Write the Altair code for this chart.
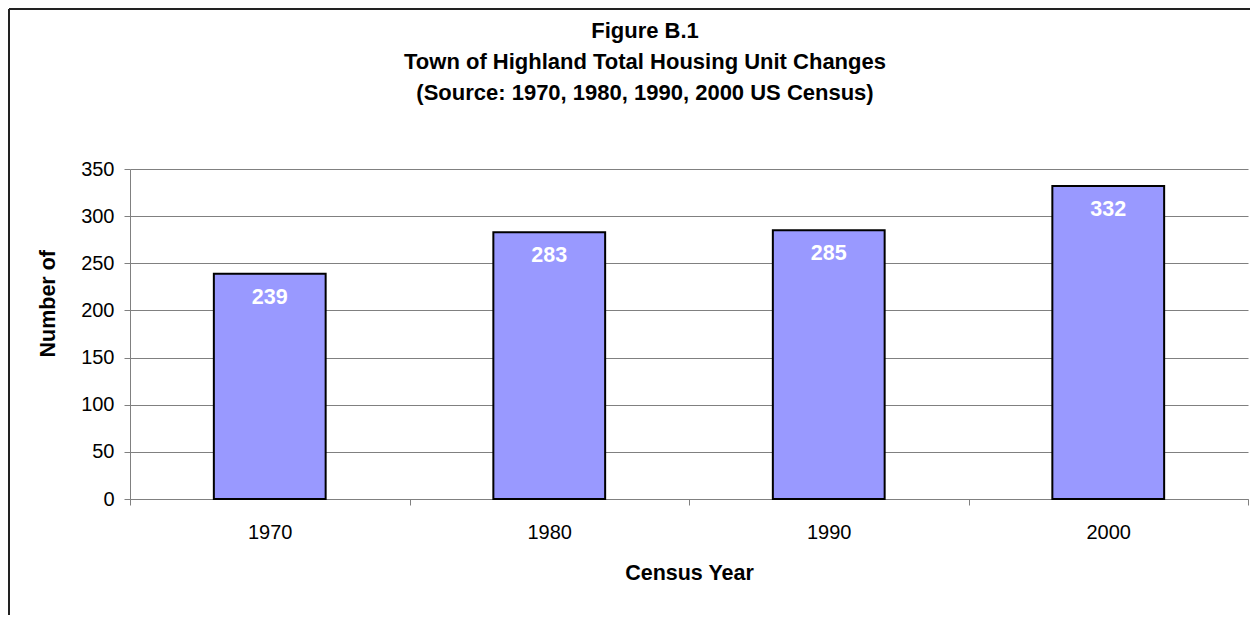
import altair as alt
import pandas as pd

years = ["1970", "1980", "1990", "2000"]
units = [239, 283, 285, 332]

title_lines = [
    "Figure B.1",
    "Town of Highland Total Housing Unit Changes",
    "(Source:  1970, 1980, 1990, 2000 US Census)",
]

FONT = "Liberation Sans"
W, H = 1118, 330

df = pd.DataFrame({"year": years, "units": units})

x_enc = alt.X(
    "year:N",
    sort=None,
    scale=alt.Scale(paddingInner=0, paddingOuter=0),
    axis=alt.Axis(
        title="Census Year",
        labelAngle=0,
        tickBand="extent",
        tickSize=6,
        labelPadding=17,
        labelFontSize=20,
        labelFont=FONT,
        labelColor="#000000",
        titleFont=FONT,
        titleFontSize=21.5,
        titleFontWeight="bold",
        titleColor="#000000",
        titlePadding=20,
        domainColor="#808080",
        tickColor="#808080",
        grid=False,
    ),
)

y_enc = alt.Y(
    "units:Q",
    scale=alt.Scale(domain=[0, 350], nice=False),
    axis=alt.Axis(
        title="Number of",
        values=[0, 50, 100, 150, 200, 250, 300, 350],
        tickSize=6,
        labelPadding=10,
        labelFontSize=20,
        labelFont=FONT,
        labelColor="#000000",
        titleFont=FONT,
        titleFontSize=21.5,
        titleFontWeight="bold",
        titleColor="#000000",
        titleAlign="left",
        titleBaseline="bottom",
        titleAngle=270,
        titleX=-71,
        titleY=188,
        domainColor="#808080",
        tickColor="#808080",
        grid=True,
        gridColor="#808080",
        gridWidth=1,
    ),
)

base = alt.Chart(df).encode(x=x_enc, y=y_enc)

bars = base.mark_bar(
    width=alt.RelativeBandSize(0.4),
    fill="#9999FF",
    stroke="#000000",
    strokeWidth=2,
)

labels = base.mark_text(
    color="#FFFFFF",
    font=FONT,
    fontSize=21.5,
    fontWeight="bold",
    baseline="alphabetic",
    dy=30,
).encode(text="units:Q")

frame_df = pd.DataFrame({"a": [0]})
left_border = alt.Chart(frame_df).mark_rule(color="#222222", strokeWidth=2).encode(
    x=alt.value(-121), y=alt.value(-160), y2=alt.value(446)
)
top_border = alt.Chart(frame_df).mark_rule(color="#222222", strokeWidth=2).encode(
    x=alt.value(-121), x2=alt.value(1120), y=alt.value(-160)
)

chart = (
    alt.layer(bars, labels, left_border, top_border)
    .properties(
        width=W,
        height=H,
        padding=0,
        title=alt.TitleParams(
            text=title_lines,
            font=FONT,
            fontSize=22,
            fontWeight="bold",
            color="#000000",
            lineHeight=31,
            anchor="middle",
            frame="group",
            dx=-44,
            offset=-97,
        ),
    )
    .configure_view(stroke=None)
)

chart.save("out.html", embed_options={"renderer": "svg", "actions": False})
